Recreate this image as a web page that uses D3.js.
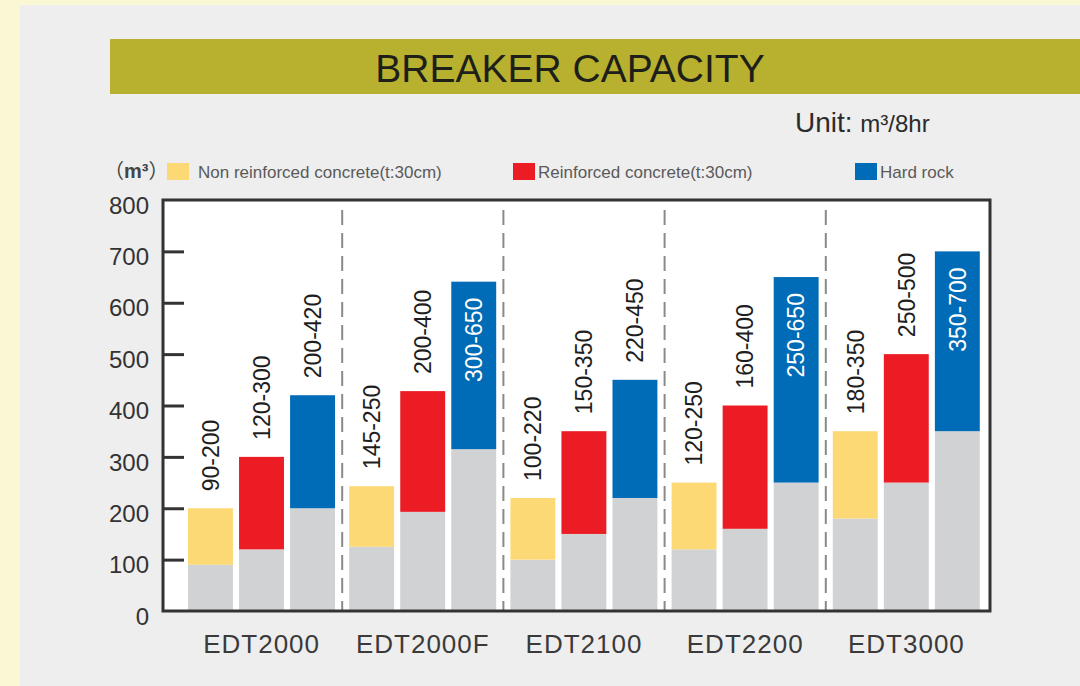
<!DOCTYPE html>
<meta charset="utf-8">
<script src="https://d3js.org/d3.v7.min.js"></script>
<style>
  body { margin: 0; }
  text { font-family: "Liberation Sans", Arial, "Noto Sans CJK SC", sans-serif; }
</style>
<div id="chart"></div>
<script>

// models along the x axis
var models = ["EDT2000", "EDT2000F", "EDT2100", "EDT2200", "EDT3000"];

// series names (legend)
var seriesNames = ["Non reinforced concrete(t:30cm)", "Reinforced concrete(t:30cm)", "Hard rock"];

// [low, high] ranges as drawn, per model
var nonReinforced = [[90, 200], [125, 243], [100, 220], [120, 250], [180, 350]];
var reinforced    = [[120, 300], [193, 428], [150, 350], [160, 400], [250, 500]];
var hardRock      = [[200, 420], [315, 641], [220, 450], [250, 650], [350, 700]];

// range labels printed on the bars
var nonReinforcedLabels = ["90-200", "145-250", "100-220", "120-250", "180-350"];
var reinforcedLabels    = ["120-300", "200-400", "150-350", "160-400", "250-500"];
var hardRockLabels      = ["200-420", "300-650", "220-450", "250-650", "350-700"];

// y axis ticks
var yTicks = [0, 100, 200, 300, 400, 500, 600, 700, 800];

var colors = ["#fdd976", "#ec1c24", "#006bb6"];
var gray = "#d1d2d4";

var width = 1080, height = 686;
var plot = {left: 163, top: 200, right: 990, bottom: 611};

var svg = d3.select("#chart")
  .append("svg")
    .attr("width", width)
    .attr("height", height);

// background: cream page, gray panel
svg.append("rect")
  .attr("width", width).attr("height", height)
  .attr("fill", "#f9f7d4");
svg.append("rect")
  .attr("x", 20).attr("y", 5)
  .attr("width", width - 20).attr("height", height - 5)
  .attr("fill", "#eeeeee");

// title band
svg.append("rect")
  .attr("x", 110).attr("y", 39)
  .attr("width", width - 110).attr("height", 55)
  .attr("fill", "#b8b12f");
svg.append("text")
  .attr("x", 570).attr("y", 82)
  .attr("text-anchor", "middle")
  .style("font-size", "39px")
  .attr("fill", "#1f1f1a")
  .text("BREAKER CAPACITY");

// unit
var unit = svg.append("text")
  .attr("x", 795).attr("y", 132)
  .attr("fill", "#2b2b2b");
unit.append("tspan").style("font-size", "28px").text("Unit: ");
unit.append("tspan").style("font-size", "24px").text("m³/8hr");

// legend
var mUnit = svg.append("text")
  .attr("x", 104).attr("y", 178)
  .attr("fill", "#444")
  .style("font-size", "20px");
mUnit.append("tspan").text("（");
mUnit.append("tspan").style("font-weight", "bold").text("m³");
mUnit.append("tspan").text("）");

var legendX = [167, 513, 855];
seriesNames.forEach(function(name, i) {
  svg.append("rect")
    .attr("x", legendX[i]).attr("y", 163)
    .attr("width", 22).attr("height", 17)
    .attr("fill", colors[i]);
  svg.append("text")
    .attr("x", legendX[i] + (i == 0 ? 31 : 25)).attr("y", 178)
    .style("font-size", "17px")
    .attr("fill", "#5a5a5a")
    .text(name);
});

// scales
var y = d3.scaleLinear()
  .domain([0, 800])
  .range([plot.bottom, plot.top]);

var x0 = d3.scaleBand()
  .domain(models)
  .range([181, 987]);

var x1 = d3.scaleBand()
  .domain(seriesNames)
  .range([7, 154])
  .paddingInner(0.12);

// plot frame fill
svg.append("rect")
  .attr("x", plot.left).attr("y", plot.top)
  .attr("width", plot.right - plot.left)
  .attr("height", plot.bottom - plot.top)
  .attr("fill", "white");

// dashed separators between models
svg.append("g")
  .selectAll("line")
  .data(models.slice(1))
  .enter()
  .append("line")
    .attr("x1", function(d) { return x0(d); })
    .attr("x2", function(d) { return x0(d); })
    .attr("y1", plot.top + 10)
    .attr("y2", plot.bottom)
    .attr("stroke", "#8a8a8a")
    .attr("stroke-width", 2)
    .attr("stroke-dasharray", "15,8");

// bars
var allSeries = [nonReinforced, reinforced, hardRock];
var allLabels = [nonReinforcedLabels, reinforcedLabels, hardRockLabels];

allSeries.forEach(function(values, s) {
  var g = svg.append("g");
  var data = values.map(function(v, i) {
    return {model: models[i], low: v[0], high: v[1], label: allLabels[s][i]};
  });

  // gray base from 0 to low
  g.selectAll("rect.base")
    .data(data)
    .enter()
    .append("rect")
      .attr("class", "base")
      .attr("x", function(d) { return x0(d.model) + x1(seriesNames[s]); })
      .attr("y", function(d) { return y(d.low); })
      .attr("width", x1.bandwidth())
      .attr("height", function(d) { return y(0) - y(d.low); })
      .attr("fill", gray);

  // coloured range from low to high
  g.selectAll("rect.range")
    .data(data)
    .enter()
    .append("rect")
      .attr("class", "range")
      .attr("x", function(d) { return x0(d.model) + x1(seriesNames[s]); })
      .attr("y", function(d) { return y(d.high); })
      .attr("width", x1.bandwidth())
      .attr("height", function(d) { return y(d.low) - y(d.high); })
      .attr("fill", colors[s]);

  // rotated range labels, above the bar or inside when there is no room
  g.selectAll("text")
    .data(data)
    .enter()
    .append("text")
      .style("font-size", "23px")
      .each(function(d) {
        var cx = x0(d.model) + x1(seriesNames[s]) + x1.bandwidth() / 2;
        var inside = y(d.high) - 17 - 85 < plot.top + 10;
        var ty = inside ? y(d.high) + 16 : y(d.high) - 17;
        d3.select(this)
          .attr("transform", "translate(" + cx + "," + ty + ") rotate(-90)")
          .attr("dy", "0.36em")
          .attr("text-anchor", inside ? "end" : "start")
          .attr("fill", inside ? "white" : "#1e1e1e")
          .text(d.label);
      });
});

// y axis labels
var yAxis = svg.append("g")
  .attr("transform", "translate(" + plot.left + ",0)")
  .call(d3.axisLeft(y).tickValues(yTicks).tickSize(0).tickPadding(14));
yAxis.select(".domain").remove();
yAxis.selectAll("text")
  .attr("dy", "0.55em")
  .style("font-size", "24px")
  .attr("fill", "#333");

// inward tick marks
var yInner = svg.append("g")
  .attr("transform", "translate(" + plot.left + ",0)")
  .call(d3.axisRight(y).tickValues(yTicks.slice(1, -1)).tickSize(21).tickFormat(""));
yInner.select(".domain").remove();
yInner.selectAll("line")
  .attr("stroke", "#333")
  .attr("stroke-width", 3);

// x axis labels
var xAxis = svg.append("g")
  .attr("transform", "translate(0," + plot.bottom + ")")
  .call(d3.axisBottom(x0).tickSize(0).tickPadding(24));
xAxis.select(".domain").remove();
xAxis.selectAll("text")
  .style("font-size", "26px")
  .style("letter-spacing", "1px")
  .attr("fill", "#3a3a3a");

// plot frame border
svg.append("rect")
  .attr("x", plot.left).attr("y", plot.top)
  .attr("width", plot.right - plot.left)
  .attr("height", plot.bottom - plot.top)
  .attr("fill", "none")
  .attr("stroke", "#333")
  .attr("stroke-width", 3);

</script>
